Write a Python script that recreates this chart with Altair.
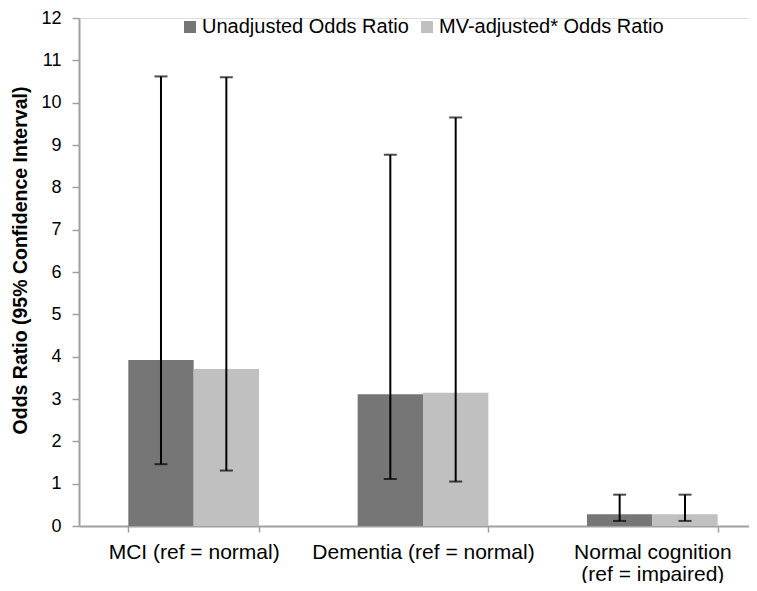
import altair as alt
import pandas as pd

categories = ["MCI (ref = normal)", "Dementia (ref = normal)", "Normal cognition (ref = impaired)"]
series = ["Unadjusted Odds Ratio", "MV-adjusted* Odds Ratio"]
unadj_or = [3.92, 3.11, 0.28]
unadj_lo = [1.46, 1.11, 0.12]
unadj_hi = [10.62, 8.77, 0.74]
adj_or = [3.71, 3.15, 0.28]
adj_lo = [1.31, 1.05, 0.12]
adj_hi = [10.60, 9.65, 0.74]
colors = ["#767676", "#c0c0c0"]

rows = []
for i, c in enumerate(categories):
    rows.append({"cat": c, "series": series[0], "or": unadj_or[i], "lo": unadj_lo[i], "hi": unadj_hi[i]})
    rows.append({"cat": c, "series": series[1], "or": adj_or[i], "lo": adj_lo[i], "hi": adj_hi[i]})
df = pd.DataFrame(rows)

FONT = "Liberation Sans"
AX = "#a0a0a0"

x_scale = alt.Scale(range=[0, 688], paddingInner=0.43, paddingOuter=0.215)

x_enc = alt.X(
    "cat:N",
    sort=categories,
    scale=x_scale,
    axis=alt.Axis(
        title=None,
        labelAngle=0,
        labelFont=FONT,
        labelFontSize=21,
        labelColor="black",
        labelPadding=9,
        labelLineHeight=22,
        labelLimit=400,
        tickBand="extent",
        tickSize=6,
        tickColor=AX,
        tickWidth=1.5,
        domainColor=AX,
        domainWidth=2,
        labelExpr="datum.label == 'Normal cognition (ref = impaired)' ? ['Normal cognition', '(ref = impaired)'] : datum.label",
    ),
)
xoff = alt.XOffset("series:N", sort=series, scale=alt.Scale(paddingInner=0, paddingOuter=0))

bars = alt.Chart(df).mark_bar().encode(
    x=x_enc,
    xOffset=xoff,
    y=alt.Y(
        "or:Q",
        scale=alt.Scale(domain=[0, 12], nice=False),
        axis=alt.Axis(
            title="Odds Ratio (95% Confidence Interval)",
            titleFont=FONT,
            titleFontSize=19.5,
            titleFontWeight="bold",
            titleColor="black",
            titlePadding=10,
            titleY=242,
            values=list(range(0, 13)),
            labelFont=FONT,
            labelFontSize=18,
            labelColor="black",
            labelPadding=11,
            tickSize=7,
            tickColor=AX,
            tickWidth=1.5,
            domainColor=AX,
            domainWidth=2,
            grid=False,
        ),
    ),
    color=alt.Color(
        "series:N",
        sort=series,
        scale=alt.Scale(domain=series, range=colors),
        legend=alt.Legend(
            title=None,
            orient="none",
            legendX=101,
            legendY=-1,
            direction="horizontal",
            symbolType="square",
            symbolSize=144,
            symbolStrokeWidth=0,
            labelFont=FONT,
            labelFontSize=20,
            labelColor="black",
            labelOffset=2,
            labelLimit=400,
            columnPadding=8,
        ),
    ),
)

x_plain = alt.X("cat:N", sort=categories, scale=x_scale)

rules = alt.Chart(df).mark_rule(color="black", strokeWidth=2).encode(
    x=x_plain,
    xOffset=xoff,
    y="lo:Q",
    y2="hi:Q",
)

caps_hi = alt.Chart(df).mark_tick(color="black", thickness=2, size=13, orient="horizontal").encode(
    x=x_plain,
    xOffset=xoff,
    y="hi:Q",
)
caps_lo = alt.Chart(df).mark_tick(color="black", thickness=2, size=13, orient="horizontal").encode(
    x=x_plain,
    xOffset=xoff,
    y="lo:Q",
)

chart = (
    alt.layer(bars, rules, caps_hi, caps_lo)
    .properties(
        width=670,
        height=508,
        autosize=alt.AutoSizeParams(type="none"),
        padding={"left": 71, "top": 10, "right": 0, "bottom": 57},
    )
    .configure_view(stroke=None)
    .configure(background="white")
)

chart.save("out.html", embed_options={"renderer": "svg", "actions": False})
